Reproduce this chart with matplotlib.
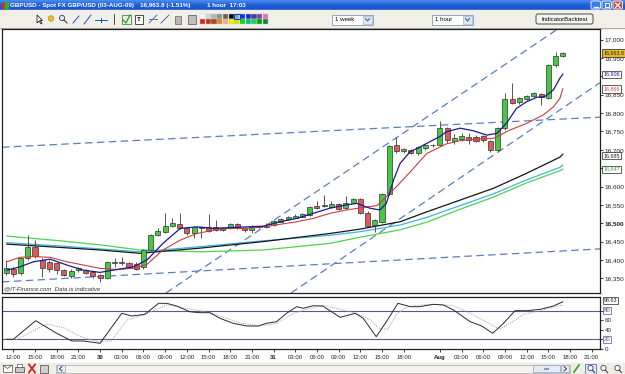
import matplotlib
matplotlib.use("Agg")
import matplotlib.pyplot as plt
from matplotlib.patches import Rectangle, FancyBboxPatch, Polygon, Circle
from matplotlib.colors import LinearSegmentedColormap
import numpy as np

plt.rcParams["font.family"] = ["Liberation Sans", "DejaVu Sans"]

# ---------------- data (hourly candles, 0 = 29 Jul 12:00) ----------------
hours = list(range(-1, 77))
opens = [16365, 16374, 16363, 16406, 16436, 16400, 16395, 16392, 16372, 16356,
         16372, 16372, 16366, 16359, 16350, 16392, 16393, 16391, 16388, 16380,
         16427, 16468, 16477, 16492, 16497, 16486, 16474, 16488, 16490, 16490,
         16481, 16486, 16497, 16488, 16481, 16490, 16490, 16495, 16504, 16511,
         16515, 16518, 16522, 16547, 16548, 16545, 16552, 16541, 16556, 16565,
         16529, 16495, 16504, 16580, 16712, 16697, 16700, 16692, 16705, 16712,
         16713, 16759, 16725, 16729, 16736, 16736, 16738, 16724, 16699, 16759,
         16838, 16829, 16838, 16847, 16852, 16840, 16931, 16955]
highs = [16400, 16381, 16408, 16468, 16454, 16405, 16400, 16395, 16376, 16374,
         16381, 16375, 16369, 16362, 16398, 16404, 16408, 16394, 16393, 16430,
         16470, 16486, 16527, 16515, 16528, 16490, 16492, 16492, 16524, 16510,
         16490, 16500, 16500, 16490, 16494, 16493, 16500, 16509, 16515, 16520,
         16524, 16527, 16548, 16560, 16577, 16560, 16556, 16574, 16570, 16568,
         16532, 16512, 16582, 16712, 16736, 16705, 16703, 16710, 16716, 16716,
         16779, 16762, 16742, 16745, 16745, 16740, 16741, 16727, 16762, 16854,
         16881, 16845, 16850, 16858, 16856, 16933, 16967, 16966]
lows = [16359, 16354, 16360, 16400, 16405, 16353, 16368, 16362, 16355, 16352,
        16368, 16361, 16352, 16341, 16347, 16381, 16386, 16378, 16372, 16376,
        16425, 16465, 16474, 16490, 16483, 16468, 16459, 16459, 16477, 16478,
        16478, 16484, 16485, 16477, 16472, 16486, 16488, 16492, 16502, 16509,
        16513, 16516, 16520, 16538, 16544, 16542, 16535, 16538, 16554, 16525,
        16490, 16477, 16500, 16578, 16690, 16692, 16688, 16686, 16700, 16708,
        16710, 16718, 16715, 16725, 16715, 16720, 16722, 16695, 16697, 16755,
        16825, 16826, 16835, 16844, 16822, 16838, 16925, 16952]
closes = [16377, 16362, 16404, 16436, 16411, 16377, 16374, 16372, 16359, 16370,
          16377, 16365, 16356, 16350, 16395, 16395, 16392, 16382, 16374, 16428,
          16468, 16480, 16492, 16500, 16486, 16472, 16490, 16489, 16479, 16481,
          16486, 16497, 16488, 16481, 16490, 16490, 16492, 16507, 16511, 16516,
          16520, 16524, 16545, 16541, 16547, 16552, 16538, 16554, 16565, 16527,
          16492, 16509, 16580, 16710, 16697, 16701, 16692, 16707, 16712, 16713,
          16759, 16727, 16733, 16738, 16727, 16724, 16727, 16699, 16759, 16838,
          16828, 16840, 16847, 16854, 16843, 16931, 16956, 16964]

# fast moving average (navy)
ma_fast_x = [-0.9, 0.9, 2.8, 5.1, 7.4, 9.7, 12.0, 13.8, 16.6, 18.5, 20.7, 23.1,
             25.4, 27.6, 30.0, 32.3, 34.6, 36.9, 39.2, 41.5, 43.8, 46.1, 47.5,
             49.3, 50.7, 51.6, 52.6, 53.5, 54.9, 56.2, 57.6, 59.0, 59.9, 61.8,
             63.6, 65.5, 66.9, 68.2, 69.6, 71.0, 72.4, 73.5, 74.7, 75.6, 76.0]
ma_fast = [16372, 16381, 16395, 16402, 16386, 16372, 16366, 16372, 16381, 16400,
           16445, 16486, 16490, 16486, 16488, 16490, 16492, 16504, 16513, 16527,
           16541, 16550, 16554, 16541, 16536, 16554, 16618, 16663, 16695, 16707,
           16722, 16736, 16749, 16759, 16752, 16740, 16745, 16772, 16813, 16831,
           16843, 16845, 16863, 16895, 16906]
# medium moving average (red)
ma_mid_x = [-0.9, 0.9, 2.8, 5.1, 7.4, 9.7, 12.0, 14.3, 16.6, 18.5, 20.7, 23.1,
            25.4, 27.7, 30.0, 32.3, 34.6, 36.9, 39.2, 41.5, 43.8, 46.1, 48.4,
            50.3, 51.6, 53.5, 54.9, 57.2, 59.9, 61.8, 64.1, 66.4, 68.7, 71.0,
            73.3, 74.7, 75.6, 76.0]
ma_mid = [16395, 16407, 16409, 16407, 16395, 16386, 16377, 16374, 16377, 16388,
          16427, 16454, 16472, 16481, 16486, 16486, 16490, 16497, 16504, 16513,
          16527, 16536, 16543, 16548, 16572, 16610, 16640, 16690, 16716, 16725,
          16729, 16731, 16754, 16772, 16795, 16817, 16840, 16866]
# slow moving averages
ma_long_x = [-0.9, 6.5, 12.0, 17.5, 25.8, 34.6, 43.8, 48.0, 53.5, 57.2, 61.8,
             66.4, 71.0, 75.6, 76.0]
ma_black = [16443, 16434, 16427, 16418, 16432, 16450, 16472, 16484, 16504, 16531,
            16563, 16595, 16636, 16680, 16688]
ma_cyan = [16447, 16438, 16430, 16422, 16436, 16452, 16467, 16477, 16495, 16516,
           16548, 16580, 16618, 16652, 16658]
ma_green = [16465, 16452, 16441, 16427, 16422, 16427, 16445, 16462, 16482, 16503,
            16538, 16571, 16610, 16643, 16647]

# trend lines: two anchor points each (hour, price)
trend_lines = [
    ((-1.56, 16707), (81.15, 16789)),
    ((-1.56, 16340), (81.15, 16430)),
    ((25.8, 16372), (75.06, 17026)),
    ((41.04, 16345), (81.15, 16883)),
]

# stochastic oscillator
stoch_k_x = [-0.9, 0.0, 3.1, 6.0, 8.1, 9.7, 12.0, 15.0, 16.4, 18.2, 20.1, 21.2,
             22.6, 24.4, 25.8, 27.2, 28.6, 30.4, 32.3, 33.9, 35.0, 36.4, 37.8,
             39.2, 40.1, 41.5, 42.8, 45.2, 47.3, 48.4, 50.2, 51.6, 53.2, 54.9,
             56.2, 58.1, 59.5, 60.9, 63.2, 64.8, 66.3, 67.8, 69.4, 71.0, 72.9,
             74.7, 76.0]
stoch_k = [19.9, 19.9, 58.9, 32.5, 16.4, 16.4, 11.5, 74.4, 68.8, 72.3, 95.4, 95.4,
           89.7, 77.8, 75.7, 75.7, 63.9, 53.5, 47.8, 47.8, 53.5, 56.8, 74.4, 88.3,
           84.9, 90.4, 89.7, 66.0, 74.4, 63.9, 25.4, 56.8, 95.4, 88.3, 88.3, 93.3,
           91.8, 81.3, 56.8, 47.8, 32.5, 53.5, 79.9, 79.9, 82.8, 89.7, 98.63]
stoch_d_x = [-0.9, 0.5, 4.6, 7.0, 9.5, 12.0, 13.5, 15.7, 18.0, 21.2, 24.0, 27.6,
             31.4, 34.1, 36.4, 38.7, 41.0, 43.0, 45.5, 47.5, 49.5, 50.5, 51.8,
             53.0, 54.4, 56.5, 59.0, 61.0, 63.0, 65.0, 67.3, 69.1, 70.5, 72.9, 76.0]
stoch_d = [20, 20, 52, 44, 24, 14, 16, 60, 71, 92, 85, 74, 54, 48, 53, 74, 85, 91,
           82, 74, 60, 42, 41, 72, 88, 92, 93, 90, 76, 60, 41, 57, 72, 80, 92]

# axis ticks / labels
x_tick_pos = [0, 3, 6, 9, 12, 15, 18, 21, 24, 27, 30, 33, 36, 39, 42, 45, 48, 51,
              54, 59, 62, 65, 68, 71, 74, 77, 80]
x_tick_lab = ["12:00", "15:00", "18:00", "21:00", "30", "03:00", "06:00", "09:00",
              "12:00", "15:00", "18:00", "21:00", "31", "03:00", "06:00", "09:00",
              "12:00", "15:00", "18:00", "Aug", "03:00", "06:00", "09:00", "12:00",
              "15:00", "18:00", "21:00"]
price_ticks = list(range(16350, 17001, 50))
price_hidden = [16900, 16650]          # tick labels hidden behind value boxes
last_values = [16963.8, 16906, 16866, 16685, 16647]
last_labels = ["16,963.8", "16,906", "16,866", "16,685", "16,647"]
osc_ticks = [0, 20, 40, 60, 80]
osc_levels = [80, 20]
osc_last = 98.63

title_main = "GBPUSD - Spot FX GBP/USD (03-AUG-09)"
title_price = "16,963.8 (-1.51%)"
title_time = "1 hour  17:03"

# ---------------- figure & chrome ----------------
W, H = 625.0, 374.0
fig = plt.figure(figsize=(6.25, 3.74), dpi=100)
fig.patch.set_facecolor("white")


def px_rect(x0, y0, x1, y1):
    return [x0 / W, 1 - y1 / H, (x1 - x0) / W, (y1 - y0) / H]


ui = fig.add_axes([0, 0, 1, 1])
grad = LinearSegmentedColormap.from_list("tb", ["#4a8cf0", "#1f5ed8", "#1a52c8"])
ui.imshow(np.linspace(0, 1, 20)[:, None], cmap=grad, extent=(0, W, 10, 0),
          aspect="auto", zorder=1)
ui.set_xlim(0, W)
ui.set_ylim(H, 0)
ui.axis("off")

# title bar
ui.add_patch(Rectangle((1.5, 2.5), 3, 5, color="#d03020", zorder=2))
ui.add_patch(Rectangle((4.5, 1.5), 3, 6, color="#30b030", zorder=2))
ui.text(10, 5.3, title_main, color="white", fontsize=4.5, fontweight="bold", va="center", zorder=3)
ui.text(140, 5.3, title_price, color="white", fontsize=4.5, fontweight="bold", va="center", zorder=3)
ui.text(207, 5.3, title_time, color="white", fontsize=4.5, fontweight="bold", va="center", zorder=3)
for bx, col in [(591, "#3c7cf0"), (602, "#3c7cf0"), (613, "#d8472b")]:
    ui.add_patch(FancyBboxPatch((bx, 1), 9.5, 8, boxstyle="round,pad=0,rounding_size=1.5",
                                fc=col, ec="white", lw=0.6, zorder=3))
ui.plot([593.5, 597.5], [7, 7], color="white", lw=1.0, zorder=4)
ui.add_patch(Rectangle((604.5, 3), 4.5, 4, fc="none", ec="white", lw=0.7, zorder=4))
ui.plot([615.5, 620], [3, 7.5], color="white", lw=0.9, zorder=4)
ui.plot([615.5, 620], [7.5, 3], color="white", lw=0.9, zorder=4)

# toolbar
ui.add_patch(Rectangle((0, 10), W, 18.5, color="#f0efe8", zorder=1))
ui.plot([0, W], [28.3, 28.3], color="#a0a0a0", lw=0.6, zorder=2)
ui.add_patch(Polygon([[37, 15], [37, 23], [39, 21], [41, 24], [42, 23], [40, 20.5], [42.5, 20.5]],
                     closed=True, fc="white", ec="black", lw=0.5, zorder=2))
ui.add_patch(Circle((51, 18.5), 2.8, fc="#f0c020", ec="#a08010", lw=0.4, zorder=2))
ui.add_patch(Circle((62, 18), 2.6, fc="#dde8ff", ec="#404040", lw=0.6, zorder=2))
ui.plot([64, 67], [20, 23], color="#404040", lw=0.8, zorder=2)
ui.plot([73, 79], [23, 16], color="#2050c0", lw=0.7, zorder=2)
ui.plot([84, 91], [24, 15], color="#2050c0", lw=0.7, zorder=2)
ui.plot([95, 107], [19.5, 19.5], color="#2050c0", lw=0.7, zorder=2)
ui.plot([101, 101], [17.5, 21.5], color="#2050c0", lw=0.7, zorder=2)
ui.plot([114, 114], [14, 24], color="#303030", lw=0.6, zorder=2)
ui.add_patch(Rectangle((122, 15), 9, 9, fc="#e8f0e0", ec="#406040", lw=0.5, zorder=2))
ui.plot([123, 126, 130], [20, 23, 15], color="#20a020", lw=0.9, zorder=3)
ui.add_patch(Rectangle((135, 15), 8, 9, fc="white", ec="#303030", lw=0.6, zorder=2))
ui.text(139, 19.5, "T", fontsize=4.5, ha="center", va="center", fontweight="bold", zorder=3)
ui.plot([149, 157], [23, 15], color="#4060a0", lw=0.6, zorder=2)
ui.plot([149, 157], [19, 19], color="#4060a0", lw=0.6, zorder=2)
ui.plot([161, 169], [23, 15], color="#3050b0", lw=0.6, zorder=2)
ui.add_patch(Rectangle((174.5, 16), 6, 7.5, fc="#b8b8b8", ec="#606060", lw=0.5, zorder=2))
ui.add_patch(Rectangle((188, 15), 8, 9, fc="#c0c0c0", ec="#505050", lw=0.5, zorder=2))
palette_top = ["#ffffff", "#d8d8d8", "#b4b4b4", "#909090", "#606060", "#000000",
               "#78a8f0", "#1030f0", "#2020c0", "#4040a0", "#8040a0", "#e070c0"]
palette_bot = ["#e02020", "#c03020", "#a05020", "#f08020", "#f0b080", "#f0f000",
               "#c0f000", "#00e000", "#00c080", "#20d060", "#00a000", "#108040"]
for k, (ct, cb) in enumerate(zip(palette_top, palette_bot)):
    ui.add_patch(Rectangle((200 + k * 5.7, 14), 5.2, 4.6, fc=ct, ec="#c8c8c8", lw=0.3, zorder=2))
    ui.add_patch(Rectangle((200 + k * 5.7, 19.2), 5.2, 4.6, fc=cb, ec="#c8c8c8", lw=0.3, zorder=2))
ui.add_patch(Rectangle((234.2, 13.5), 6.2, 5.6, fc="none", ec="#1040a0", lw=0.8, zorder=3))
for cx0, cx1, label in [(332, 373, "1 week"), (432, 473, "1 hour")]:
    ui.add_patch(Rectangle((cx0, 15), cx1 - cx0, 9.5, fc="white", ec="#7f9db9", lw=0.6, zorder=2))
    ui.add_patch(Rectangle((cx1 - 10, 16), 9, 7.5, fc="#dfe8f8", ec="#9fb5d5", lw=0.5, zorder=3))
    ui.plot([cx1 - 7.5, cx1 - 5.5, cx1 - 3.5], [18.5, 21, 18.5], color="#4d6185", lw=0.8, zorder=4)
    ui.text(cx0 + 3, 19.8, label, fontsize=4.4, va="center", ha="left", zorder=3)
ui.add_patch(FancyBboxPatch((536, 14), 57, 10, boxstyle="round,pad=0,rounding_size=2",
                            fc="#f4f4f0", ec="#303030", lw=0.6, zorder=2))
ui.text(564.5, 19.2, "IndicatorBacktest", fontsize=4.3, ha="center", va="center", zorder=3)

# bottom toolbar
ui.add_patch(Rectangle((0, 362.5), W, 12, color="#efede4", zorder=1))
ui.add_patch(Rectangle((3, 365), 9, 6.5, fc="white", ec="#505050", lw=0.5, zorder=2))
ui.plot([3, 7.5, 12], [365, 368.5, 365], color="#505050", lw=0.5, zorder=3)
ui.add_patch(Rectangle((15, 366.5), 9, 5, fc="#c8c8c8", ec="#404040", lw=0.5, zorder=2))
ui.add_patch(Rectangle((17, 364), 5, 3, fc="white", ec="#404040", lw=0.4, zorder=2))
ui.plot([29, 35], [364.5, 372.5], color="#d02020", lw=1.3, zorder=2)
ui.plot([29, 35], [372.5, 364.5], color="#d02020", lw=1.3, zorder=2)
ui.add_patch(Rectangle((40, 364.5), 8, 8, fc="#d0d0d0", ec="#404040", lw=0.5, zorder=2))
ui.add_patch(Rectangle((56, 364.5), 514, 8.5, fc="#f4f3ee", ec="#a8a8a8", lw=0.5, zorder=2))
ui.add_patch(Rectangle((57, 365.2), 8, 7, fc="#e4ecf8", ec="#8aa0c0", lw=0.5, zorder=3))
ui.plot([62, 59.5, 62], [366.5, 368.7, 371], color="#404040", lw=0.7, zorder=4)
ui.add_patch(Rectangle((533, 365.2), 27, 7, fc="#e4ecf8", ec="#8aa0c0", lw=0.5, zorder=3))
ui.plot([545, 548], [368.7, 368.7], color="#8aa0c0", lw=1.5, zorder=4)
ui.add_patch(Rectangle((561, 365.2), 8, 7, fc="#e4ecf8", ec="#8aa0c0", lw=0.5, zorder=3))
ui.plot([564, 566.5, 564], [366.5, 368.7, 371], color="#404040", lw=0.7, zorder=4)
ui.plot([574, 579], [372, 365], color="#30a030", lw=1.2, zorder=2)
ui.add_patch(Rectangle((585, 363.5), 11, 10, fc="#dce6f4", ec="#4060a0", lw=0.5, zorder=2))
for zx in (590.5, 603.5, 617.5):
    ui.add_patch(Circle((zx, 368), 2.6, fc="white", ec="#404060", lw=0.6, zorder=3))
    ui.plot([zx + 1.8, zx + 4], [370, 372.5], color="#404060", lw=0.8, zorder=3)

# ---------------- price panel ----------------
XMIN, XMAX = -1.563, 81.15
ax = fig.add_axes(px_rect(2, 29, 600, 293))
ax.set_facecolor("white")
ax.set_xlim(XMIN, XMAX)
ax.set_ylim(16309.8, 17029.2)

for p1, p2 in trend_lines:
    ax.axline(p1, p2, color="#5a7dc2", lw=0.9, ls=(0, (6, 3.5)), zorder=2)

ax.plot(ma_long_x, ma_green, color="#4fd24f", lw=0.9, zorder=3)
ax.plot(ma_long_x, ma_cyan, color="#3db6de", lw=0.9, zorder=3)
ax.plot(ma_long_x, ma_black, color="#151515", lw=0.9, zorder=3)

o = np.array(opens, float)
c = np.array(closes, float)
up = c >= o
body_col = np.where(up, "#45c845", "#dc5a5a")
ax.vlines(hours, lows, highs, color="#3a3a3a", lw=0.6, zorder=4)
ax.bar(hours, np.maximum(np.abs(c - o), 1.5), bottom=np.minimum(o, c), width=0.7,
       color=body_col, edgecolor="#333333", linewidth=0.5, zorder=5)

ax.plot(ma_mid_x, ma_mid, color="#c7403c", lw=0.8, zorder=6)
ax.plot(ma_fast_x, ma_fast, color="#1a1a90", lw=0.9, zorder=6)

ax.set_xticks([])
ax.yaxis.tick_right()
ax.set_yticks(price_ticks)
ax.set_yticklabels(["" if v in price_hidden else f"{v:,}" for v in price_ticks])
ax.tick_params(axis="y", length=2.2, width=0.6, pad=1, labelsize=4.6, colors="#222222")
for lab in ax.get_yticklabels():
    if lab.get_text() == "16,500":
        lab.set_fontweight("bold")
for sp in ax.spines.values():
    sp.set_color("#202020")
    sp.set_linewidth(0.9)

ax.text(0.003, 0.006, "@IT-Finance.com  Data is indicative", transform=ax.transAxes,
        fontsize=4.3, style="italic", color="#333333", ha="left", va="bottom", zorder=7)

label_styles = [("#e8b830", "#202020", "#202020"), ("white", "#1a1a90", "#202020"),
                ("white", "#c7403c", "#202020"), ("white", "#202020", "#202020"),
                ("white", "#3caa3c", "#202020")]
for v, t, (fc, tc, ec) in zip(last_values, last_labels, label_styles):
    ax.text(1.006, v, t, transform=ax.get_yaxis_transform(), fontsize=3.9, color=tc,
            ha="left", va="center", clip_on=False, zorder=10,
            bbox=dict(boxstyle="square,pad=0.22", fc=fc, ec=ec, lw=0.5))

# ---------------- oscillator panel ----------------
osc = fig.add_axes(px_rect(2, 297, 600, 349))
osc.set_facecolor("white")
osc.set_xlim(XMIN, XMAX)
osc.set_ylim(-0.4, 108.6)
for lvl in osc_levels:
    osc.axhline(lvl, color="#5f5490", lw=0.8, zorder=1)
osc.plot(stoch_d_x, stoch_d, color="#c49a9a", lw=0.7, ls=(0, (1.2, 1.2)), zorder=2)
osc.plot(stoch_k_x, stoch_k, color="#2a2a2a", lw=0.7, zorder=3)

osc.yaxis.tick_right()
osc.set_yticks(osc_ticks)
osc.set_yticklabels(["" if v in osc_levels else str(v) for v in osc_ticks])
osc.tick_params(axis="y", length=2.2, width=0.6, pad=1, labelsize=4.5, colors="#222222")
for lvl in osc_levels:
    osc.text(1.006, lvl, str(lvl), transform=osc.get_yaxis_transform(), fontsize=4.3,
             color="#5f5490", ha="left", va="center", clip_on=False, zorder=10,
             bbox=dict(boxstyle="square,pad=0.15", fc="white", ec="#5f5490", lw=0.5))
osc.text(1.006, osc_last + 2, f"{osc_last:.2f}", transform=osc.get_yaxis_transform(),
         fontsize=3.9, color="#202020", ha="left", va="center", clip_on=False, zorder=10,
         bbox=dict(boxstyle="square,pad=0.15", fc="white", ec="#202020", lw=0.5))

osc.set_xticks(x_tick_pos)
osc.set_xticklabels(x_tick_lab)
osc.tick_params(axis="x", length=2.2, width=0.6, pad=1.8, labelsize=4.3, colors="#222222")
for lab in osc.get_xticklabels():
    if lab.get_text() in ("30", "31", "Aug"):
        lab.set_fontweight("bold")
for sp in osc.spines.values():
    sp.set_color("#202020")
    sp.set_linewidth(0.9)

fig.savefig("out.png", dpi=100)
